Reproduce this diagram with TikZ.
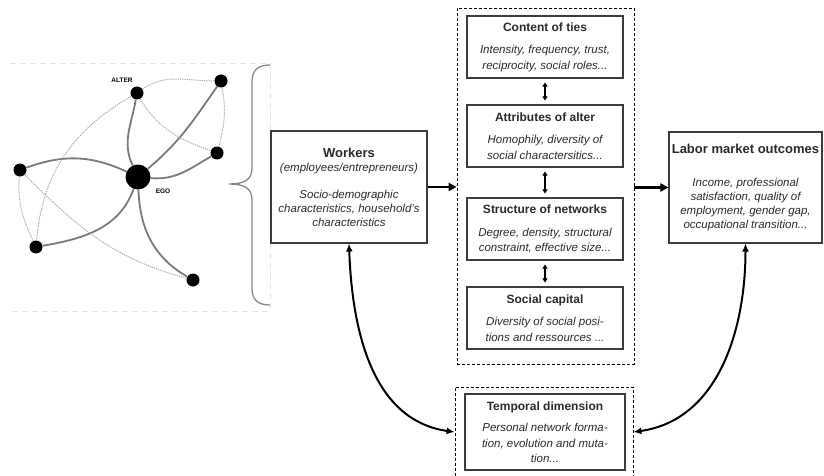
\documentclass[tikz,border=0pt]{standalone}
\usepackage{fontspec}
\setmainfont{Liberation Sans}
\usetikzlibrary{arrows.meta}

\definecolor{borde}{HTML}{3C3C3C}
\definecolor{texto}{HTML}{2A2A2A}
\definecolor{lazo}{HTML}{7A7A7A}
\definecolor{punteado}{HTML}{A8A8A8}

\newcommand{\titulo}[1]{{\fontsize{12}{14}\selectfont\bfseries\upshape #1}}
\newcommand{\titulogrande}[1]{{\fontsize{13}{15}\selectfont\bfseries\upshape #1}}

\tikzset{
  caja/.style={draw=borde, line width=1.1pt, minimum width=156pt, minimum height=62pt,
    align=center, inner sep=2pt, text=texto, font=\fontsize{11.5}{15.5}\selectfont\itshape},
  marco/.style={draw=black, line width=0.8pt, dash pattern=on 3pt off 2pt},
  flecha/.style={-{Triangle[length=8pt,width=8pt]}, line width=2.5pt},
  doble/.style={{Triangle[length=4pt,width=5pt]}-{Triangle[length=4pt,width=5pt]},
    line width=1.8pt, shorten <=4pt, shorten >=4pt},
  curva/.style={{Latex[length=8pt,width=7pt]}-{Latex[length=8pt,width=7pt]}, line width=2pt},
  punto/.style={circle, fill=black, inner sep=0pt, minimum size=13pt},
  fuerte/.style={draw=lazo, line width=1.8pt},
  debil/.style={draw=punteado, line width=1pt, dash pattern=on 1.2pt off 1pt},
  etiqueta/.style={font=\fontsize{6.5}{7}\selectfont\bfseries, inner sep=0pt},
}

\begin{document}
\begin{tikzpicture}[x=1pt, y=1pt]

    \useasboundingbox (0,0) rectangle (824,-476);

    % Marco tenue de la imagen de la red
    \draw[gray!22, line width=0.8pt, dash pattern=on 6pt off 4pt] (10,-63) -- (270,-63) -- (270,-311) -- (10,-311);

    % Nodos de la red personal
    \foreach \n/\x/\y in {alter/137/-93, arriba/221/-81, derecha/217/-153, izq/20/-170, abajoizq/36/-247, abajo/193/-280}
        \node[punto] (\n) at (\x,\y) {};
    \node[punto, minimum size=25pt] (ego) at (138,-177) {};
    \node[etiqueta] (etalter) at (122,-80) {ALTER};
    \node[etiqueta] (etego) at (163,-191) {EGO};

    % Lazos fuertes (ego - alters)
    \draw[fuerte] (ego) to[out=115, in=-100] (alter);
    \draw[fuerte] (ego) to[out=40, in=-125] (arriba);
    \draw[fuerte] (ego) to[out=-5, in=-150] (derecha);
    \draw[fuerte] (ego) to[out=155, in=20] (izq);
    \draw[fuerte] (ego) to[out=-110, in=10] (abajoizq);
    \draw[fuerte] (ego) to[out=-88, in=150] (abajo);

    % Lazos entre alters
    \draw[debil] (alter) to[out=35, in=180] (arriba);
    \draw[debil] (alter) to[out=-150, in=85] (abajoizq);
    \draw[debil] (alter) to[out=-60, in=160] (derecha);
    \draw[debil] (arriba) to[out=-80, in=75] (derecha);
    \draw[debil] (izq) to[out=-95, in=115] (abajoizq);
    \draw[debil] (izq) to[out=-45, in=165] (abajo);

    % Llave
    \draw[lazo!90, line width=1.3pt] (270,-65) .. controls (258,-65) and (252,-70) .. (252,-82)
        -- (252,-168) .. controls (252,-180) and (244,-184) .. (229,-184)
        .. controls (244,-184) and (252,-188) .. (252,-200)
        -- (252,-288) .. controls (252,-300) and (258,-305) .. (270,-305);

    % Trabajadores y resultados
    \node[caja, minimum height=112pt, font=\fontsize{11.5}{14}\selectfont\itshape] (trabajadores) at (349,-187)
        {\titulogrande{Workers}\\(employees/entrepreneurs)\\[13pt] Socio-demographic\\ characteristics, household's\\ characteristics};
    \node[caja, minimum width=153pt, minimum height=111pt, font=\fontsize{11.5}{14}\selectfont\itshape] (resultados) at (745.5,-187.5)
        {\titulogrande{Labor market outcomes}\\[19pt] Income, professional\\ satisfaction, quality of\\ employment, gender gap,\\ occupational transition...};

    % Bloque central
    \node[marco, minimum width=177pt, minimum height=356pt] (red) at (545.5,-186) {};
    \node[caja] (contenido) at (545,-47) {\titulo{Content of ties}\\[7pt] Intensity, frequency, trust,\\ reciprocity, social roles...};
    \node[caja] (atributos) at (545,-136) {\titulo{Attributes of alter}\\[7pt] Homophily, diversity of\\ social charactersitics...};
    \node[caja] (estructura) at (545,-229) {\titulo{Structure of networks}\\[7pt] Degree, density, structural\\ constraint, effective size...};
    \node[caja] (capital) at (545,-318) {\titulo{Social capital}\\[7pt] Diversity of social posi-\\ tions and ressources ...};

    \draw[doble] (contenido) -- (atributos);
    \draw[doble] (atributos) -- (estructura);
    \draw[doble] (estructura) -- (capital);

    % Dimension temporal
    \node[marco, minimum width=178pt, minimum height=103pt] (marcot) at (544,-438.5) {};
    \node[caja, minimum width=160pt, minimum height=76pt] (temporal) at (545,-432)
        {\titulo{Temporal dimension}\\[6pt] Personal network forma-\\ tion, evolution and muta-\\ tion...};

    % Flechas
    \draw[flecha] (trabajadores.east) -- (trabajadores.east -| red.west);
    \draw[flecha] (red.east |- resultados.west) -- (resultados.west);
    \draw[curva] (trabajadores.south) to[out=-88, in=172] (marcot.west |- temporal.west);
    \draw[curva] (resultados.south) to[out=-90, in=8] (marcot.east |- temporal.east);

\end{tikzpicture}
\end{document}
